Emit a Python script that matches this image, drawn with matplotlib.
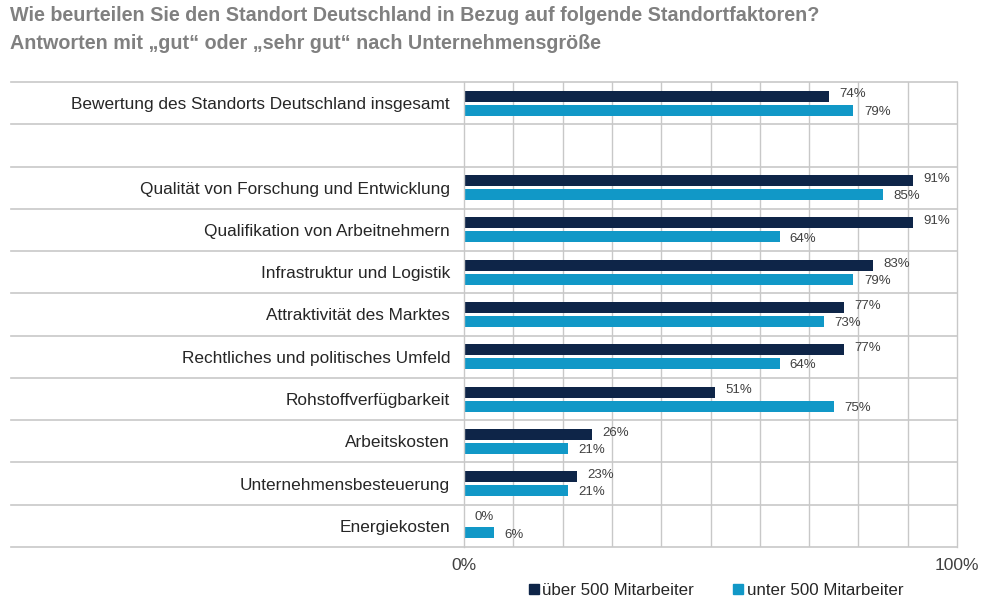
import matplotlib.pyplot as plt
from matplotlib.lines import Line2D

plt.rcParams['font.family'] = ['Liberation Sans', 'DejaVu Sans']

categories = [
    "Bewertung des Standorts Deutschland insgesamt",
    "",
    "Qualität von Forschung und Entwicklung",
    "Qualifikation von Arbeitnehmern",
    "Infrastruktur und Logistik",
    "Attraktivität des Marktes",
    "Rechtliches und politisches Umfeld",
    "Rohstoffverfügbarkeit",
    "Arbeitskosten",
    "Unternehmensbesteuerung",
    "Energiekosten",
]
ueber_500 = [74, None, 91, 91, 83, 77, 77, 51, 26, 23, 0]
unter_500 = [79, None, 85, 64, 79, 73, 64, 75, 21, 21, 6]
series_names = ["über 500 Mitarbeiter", "unter 500 Mitarbeiter"]

dark = '#0e2548'
cyan = '#1198c7'
grid = '#c8c8c8'

fig = plt.figure(figsize=(9.82, 5.99), dpi=100)
ax = fig.add_axes([464/982, 1 - 547/599, (957-464)/982, (547-82)/599])

h = 0.26
off = 0.165
for i, (a, b) in enumerate(zip(ueber_500, unter_500)):
    if a is None:
        continue
    ax.barh(i - off, a, height=h, color=dark)
    ax.barh(i + off, b, height=h, color=cyan)
    ax.text(a + 2.1, i - off - 0.04, f'{a}%', va='center', ha='left', fontsize=9.5, color='#404040')
    ax.text(b + 2.1, i + off + 0.04, f'{b}%', va='center', ha='left', fontsize=9.5, color='#404040')

ax.set_xlim(0, 100)
ax.set_ylim(len(categories) - 0.5, -0.5)

# vertical grid every 10%
for x in range(10, 100, 10):
    ax.axvline(x, color=grid, lw=1, zorder=0)
# horizontal separators reaching into the label area
for y in range(len(categories) + 1):
    ax.axhline(y - 0.5, xmin=-(464 - 11) / (957 - 464), xmax=1, color=grid, lw=1.2, clip_on=False, zorder=0)

for s in ax.spines.values():
    s.set_color(grid)
    s.set_linewidth(1)
ax.spines['top'].set_visible(False)
ax.spines['bottom'].set_visible(False)

ax.set_yticks(range(len(categories)))
ax.set_yticklabels(categories, fontsize=12.4, color='#262626')
ax.set_xticks([0, 100])
ax.set_xticklabels(['0%', '100%'], fontsize=12.5, color='#404040')
ax.tick_params(axis='y', length=0, pad=10)
ax.tick_params(axis='x', length=0, pad=8)

fig.text(0.010, 0.974, "Wie beurteilen Sie den Standort Deutschland in Bezug auf folgende Standortfaktoren?",
         fontsize=14.2, fontweight='bold', color='#808080', va='center', ha='left')
fig.text(0.010, 0.928, "Antworten mit „gut“ oder „sehr gut“ nach Unternehmensgröße",
         fontsize=14.2, fontweight='bold', color='#808080', va='center', ha='left')

handles = [Line2D([], [], marker='s', ls='', color=dark, markersize=7),
           Line2D([], [], marker='s', ls='', color=cyan, markersize=7)]
fig.legend(handles, series_names, loc='center', bbox_to_anchor=(0.729, 0.014), ncol=2,
           frameon=False, fontsize=12.2, handlelength=0.6, handletextpad=0.2, columnspacing=2.3,
           labelcolor='#262626')

fig.savefig('out.png', dpi=100)
